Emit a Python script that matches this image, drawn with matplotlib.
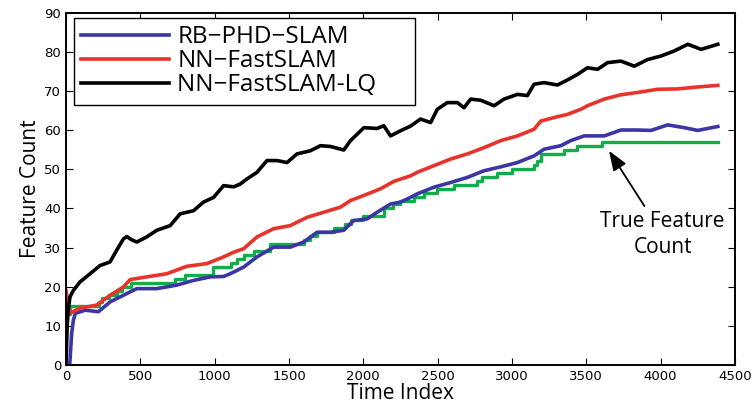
import matplotlib
matplotlib.use("Agg")
import matplotlib.pyplot as plt

# values
lq_t = [0, 8, 15, 27, 49, 94, 162, 229, 296, 341, 386, 409, 440, 476, 543, 611, 701, 768,
        858, 925, 993, 1060, 1128, 1172, 1217, 1285, 1352, 1420, 1487, 1554, 1644, 1712,
        1779, 1869, 1914, 2004, 2093, 2138, 2183, 2250, 2318, 2385, 2453, 2498, 2565, 2633,
        2678, 2722, 2790, 2880, 2947, 3037, 3104, 3149, 3216, 3306, 3374, 3441, 3508, 3576,
        3643, 3733, 3823, 3913, 4003, 4093, 4183, 4273, 4385]
lq_v = [0, 10, 14, 17.4, 19, 21.2, 23.3, 25.4, 26.3, 29.3, 32.2, 32.8, 32.0, 31.4, 32.7, 34.4,
        35.6, 38.6, 39.4, 41.6, 42.8, 45.8, 45.5, 46.2, 47.5, 49.2, 52.2, 52.2, 51.7, 53.9,
        54.7, 56.0, 55.8, 54.9, 57.3, 60.6, 60.4, 61.1, 58.5, 59.8, 61.0, 62.8, 61.9, 65.3,
        67.0, 67.0, 65.7, 67.9, 67.6, 66.2, 67.9, 69.1, 68.8, 71.7, 72.1, 71.5, 72.8, 74.2,
        75.9, 75.5, 77.2, 77.6, 76.3, 78.0, 78.9, 80.2, 81.9, 80.6, 81.9]

nn_t = [0, 12, 25, 94, 207, 296, 386, 431, 543, 678, 813, 948, 1060, 1128, 1195, 1285, 1397,
        1509, 1621, 1733, 1846, 1914, 2004, 2116, 2206, 2318, 2363, 2475, 2588, 2700, 2812,
        2925, 3037, 3149, 3194, 3306, 3374, 3464, 3508, 3621, 3733, 3846, 3980, 4115, 4250, 4385]
nn_v = [19, 16, 13.2, 14.5, 15.3, 17.8, 19.9, 21.8, 22.5, 23.3, 25.2, 25.9, 27.6, 28.8, 29.7,
        32.7, 34.8, 35.6, 37.7, 39.0, 40.3, 42.0, 43.3, 45.0, 46.9, 48.3, 49.2, 50.9, 52.6,
        53.9, 55.5, 57.3, 58.5, 60.2, 62.3, 63.4, 64.0, 65.3, 66.2, 67.9, 69.0, 69.6, 70.4,
        70.5, 71.0, 71.4]

phd_t = [25, 30, 38, 50, 63, 130, 218, 296, 386, 476, 611, 746, 858, 970, 1060, 1105, 1195,
         1285, 1397, 1509, 1599, 1689, 1779, 1869, 1936, 2026, 2093, 2183, 2251, 2318, 2363,
         2475, 2588, 2700, 2812, 2925, 3037, 3149, 3216, 3329, 3396, 3486, 3621, 3733, 3846,
         3935, 4048, 4160, 4250, 4385]
phd_v = [0, 3, 8, 11.5, 13.2, 14.0, 13.6, 16.1, 17.8, 19.5, 19.5, 20.4, 21.6, 22.5, 22.6,
         23.3, 25.0, 27.6, 30.1, 30.1, 31.4, 33.9, 33.9, 34.4, 36.9, 37.3, 39.0, 41.1, 41.6,
         42.8, 43.7, 45.4, 46.6, 47.9, 49.6, 50.6, 51.7, 53.4, 55.1, 56.0, 57.3, 58.5, 58.5,
         60.0, 60.0, 59.9, 61.3, 60.6, 59.9, 60.9]

true_t = [20, 30, 220, 240, 290, 340, 380, 440, 735, 800, 990, 1110, 1150, 1195, 1262, 1375,
          1600, 1640, 1690, 1800, 1880, 1915, 2000, 2138, 2200, 2250, 2341, 2408, 2498, 2610,
          2767, 2800, 2902, 3000, 3149, 3170, 3194, 3351, 3441, 3609, 4385]
true_v = [13, 15, 16, 17, 18, 19, 20, 21, 22, 23, 25, 26, 27, 28, 29, 31, 32, 33, 34, 35, 36,
          37, 38, 40, 41, 42, 43, 44, 45, 46, 47, 48, 49, 50, 51, 52, 54, 55, 56, 57, 57]

labels = ["RB\u2212PHD\u2212SLAM", "NN\u2212FastSLAM", "NN\u2212FastSLAM-LQ"]

fig = plt.figure(figsize=(7.55, 4.07), dpi=100)
ax = fig.add_axes([0.0874, 0.1032, 0.886, 0.866])

ax.plot(true_t, true_v, color="#12ad4a", lw=2.4, drawstyle="steps-post")
ax.plot(phd_t, phd_v, color="#3d34a5", lw=2.6, label=labels[0])
ax.plot(nn_t, nn_v, color="#e8332b", lw=2.6, label=labels[1])
ax.plot(lq_t, lq_v, color="black", lw=2.6, label=labels[2] + "     ")

ax.set_xlim(0, 4500)
ax.set_ylim(0, 90)
ax.set_xticks(range(0, 4501, 500))
ax.set_yticks(range(0, 91, 10))
ax.tick_params(direction="in", top=True, right=True, length=5, labelsize=9.5)
for s in ax.spines.values():
    s.set_linewidth(1.4)

ax.set_xlabel("Time Index", family="Open Sans", fontsize=15, labelpad=0)
ax.set_ylabel("Feature Count", family="Open Sans", fontsize=15, labelpad=2)

leg = ax.legend(loc="upper left", bbox_to_anchor=(0.012, 0.984), borderaxespad=0,
                fancybox=False, edgecolor="black", framealpha=1,
                prop={"family": "Open Sans", "size": 17.5}, handlelength=3.6,
                labelspacing=0.0, borderpad=0.3, handletextpad=0.35)
leg.get_frame().set_linewidth(1.0)

ax.annotate("True Feature\nCount", xy=(3653, 54.7), xytext=(4014, 33.3),
            ha="center", va="center", family="Open Sans", fontsize=15, linespacing=1.3,
            arrowprops=dict(arrowstyle="-|>,head_length=0.8,head_width=0.3",
                            color="black", lw=1.3, shrinkA=2, shrinkB=0))

fig.savefig("out.png", dpi=100)
